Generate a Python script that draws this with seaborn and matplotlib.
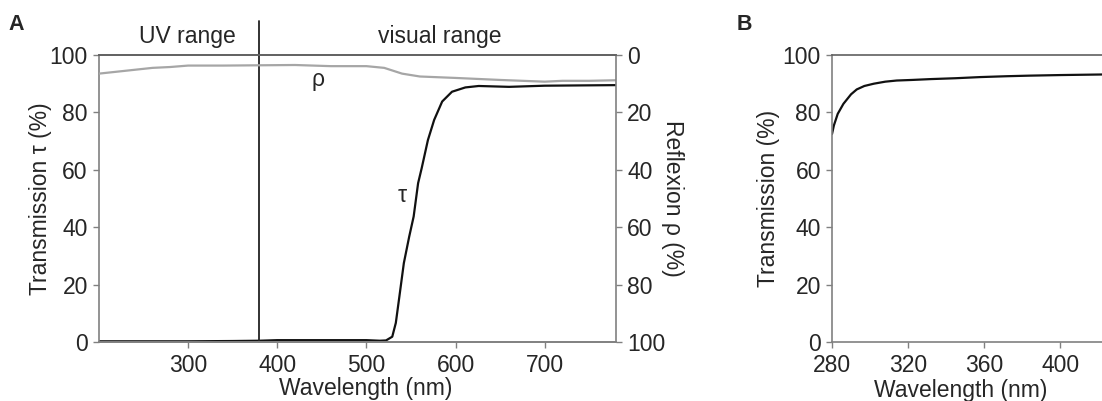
import matplotlib
matplotlib.use("Agg")
import matplotlib.pyplot as plt
import seaborn as sns
import pandas as pd

# panel A: transmission tau (left axis)
wl_tau = [200, 250, 300, 350, 380, 400, 450, 500, 515, 522, 529, 533, 537, 542,
          548, 553, 558, 562, 569, 576, 585, 596, 611, 626, 660, 700, 740, 780]
tau = [0.4, 0.4, 0.4, 0.5, 0.6, 0.8, 0.8, 0.8, 0.6, 0.7, 2.0, 6.8, 16.0, 27.6,
       36.8, 43.8, 55.4, 60.6, 70.4, 77.4, 83.8, 87.2, 88.7, 89.2, 88.9, 89.3, 89.4, 89.5]

# panel A: reflexion rho (right axis, inverted)
wl_rho = [200, 230, 260, 280, 300, 340, 380, 420, 460, 500, 520, 540, 560,
          600, 650, 700, 720, 750, 780]
rho = [6.5, 5.5, 4.5, 4.2, 3.7, 3.7, 3.6, 3.5, 3.9, 3.9, 4.5, 6.5, 7.5,
       8.0, 8.7, 9.3, 9.0, 9.0, 8.8]

# panel B: transmission
wl_b = [280, 281, 283, 286, 290, 293, 297, 302, 308, 314, 322, 332, 345, 358,
        372, 384, 400, 422]
trans_b = [72.5, 75.5, 79.5, 83.0, 86.3, 88.0, 89.2, 90.0, 90.7, 91.1, 91.3, 91.6,
           91.9, 92.3, 92.6, 92.8, 93.0, 93.2]

df_tau = pd.DataFrame({"wl": wl_tau, "val": tau})
df_rho = pd.DataFrame({"wl": wl_rho, "val": rho})
df_b = pd.DataFrame({"wl": wl_b, "val": trans_b})

sns.set_style("ticks")
plt.rcParams["font.family"] = ["Liberation Sans", "DejaVu Sans"]
fs = 16.5
plt.rcParams["font.size"] = fs

spine_col = "#808080"
fig = plt.figure(figsize=(11.02, 4.01), dpi=100)

def style_axes(ax):
    for s in ["left", "bottom", "right"]:
        ax.spines[s].set_color(spine_col)
        ax.spines[s].set_linewidth(1.2)
    ax.spines["top"].set_color("#606060")
    ax.spines["top"].set_linewidth(1.2)
    ax.tick_params(direction="out", length=4, width=1, color=spine_col,
                   labelsize=fs)
    ax.tick_params(axis="x", pad=4)
    ax.tick_params(axis="y", pad=4)

# ---------------- panel A ----------------
axA = fig.add_axes([0.0898, 0.146, 0.4692, 0.717])
sns.lineplot(data=df_tau, x="wl", y="val", ax=axA, color="#111111", lw=1.6,
             estimator=None, sort=False)
axA.set_xlim(200, 780)
axA.set_ylim(0, 100)
axA.set_xticks([300, 400, 500, 600, 700])
axA.set_yticks([0, 20, 40, 60, 80, 100])
axA.set_xlabel("Wavelength (nm)", fontsize=fs, va="top")
axA.set_ylabel("Transmission τ (%)", fontsize=fs, va="center")
style_axes(axA)
axA.spines["right"].set_visible(False)
axA.xaxis.set_label_coords(0.515, -0.12, transform=axA.transAxes)
axA.yaxis.set_label_coords(-0.114, 0.5, transform=axA.transAxes)

axR = axA.twinx()
sns.lineplot(data=df_rho, x="wl", y="val", ax=axR, color="#a6a6a6", lw=1.6,
             estimator=None, sort=False)
axR.set_ylim(100, 0)
axR.set_yticks([0, 20, 40, 60, 80, 100])
axR.set_ylabel("Reflexion ρ (%)", fontsize=fs, rotation=270, va="center")
style_axes(axR)
axR.spines["left"].set_visible(False)
axR.yaxis.set_label_coords(1.11, 0.5, transform=axR.transAxes)

# UV / visual divider and labels
axA.axvline(380, ymin=0, ymax=1.118, color="#222222", lw=1.3, clip_on=False)
axA.text(299, 102.5, "UV range", ha="center", va="bottom", fontsize=fs)
axA.text(582, 102.5, "visual range", ha="center", va="bottom", fontsize=fs)
axA.text(446, 91.5, "ρ", ha="center", va="center", fontsize=fs)
axA.text(540, 51, "τ", ha="center", va="center", fontsize=fs)

fig.text(0.008, 0.925, "A", fontsize=15.5, fontweight="bold")

# ---------------- panel B ----------------
axB = fig.add_axes([0.755, 0.146, 0.245, 0.717])
sns.lineplot(data=df_b, x="wl", y="val", ax=axB, color="#111111", lw=1.6,
             estimator=None, sort=False)
axB.set_xlim(280, 422)
axB.set_ylim(0, 100)
axB.set_xticks([280, 320, 360, 400])
axB.set_yticks([0, 20, 40, 60, 80, 100])
axB.set_xlabel("Wavelength (nm)", fontsize=fs, va="top")
axB.set_ylabel("Transmission (%)", fontsize=fs, va="center")
style_axes(axB)
axB.spines["right"].set_visible(False)
axB.xaxis.set_label_coords(0.478, -0.128, transform=axB.transAxes)
axB.yaxis.set_label_coords(-0.237, 0.5, transform=axB.transAxes)

fig.text(0.668, 0.925, "B", fontsize=15.5, fontweight="bold")

fig.savefig("out.png", dpi=100)
